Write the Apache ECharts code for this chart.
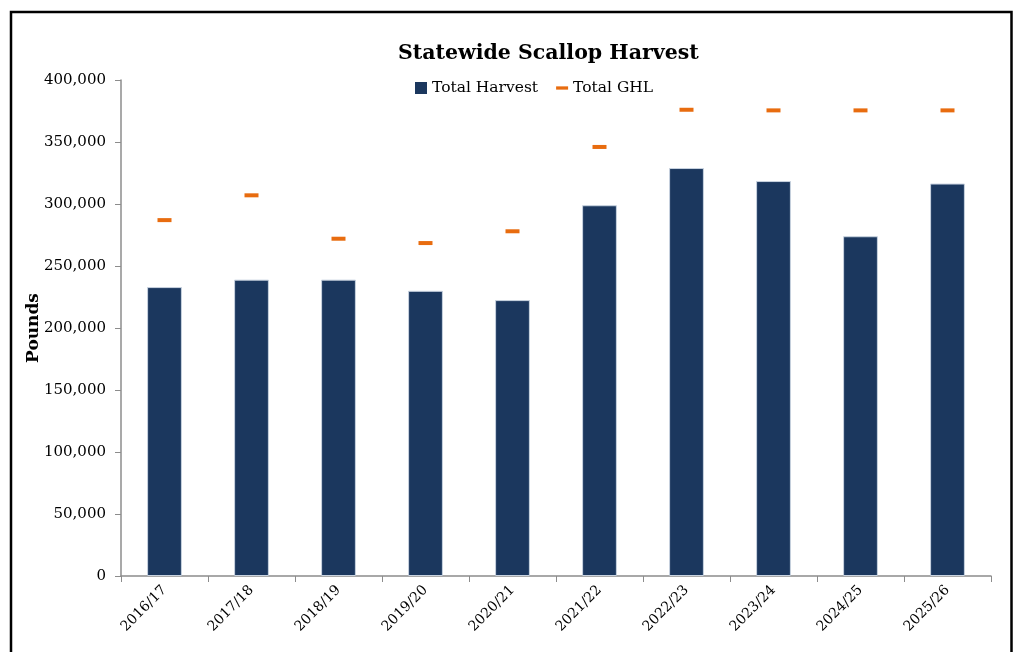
<!DOCTYPE html>
<html><head><meta charset="utf-8">
<script src="https://cdn.jsdelivr.net/npm/echarts@6/dist/echarts.min.js"></script>
<style>html,body{margin:0;padding:0;background:#fff;}#c{width:1023px;height:652px;}</style>
</head><body><div id="c"></div>
<script>
const categories = ['2016/17','2017/18','2018/19','2019/20','2020/21','2021/22','2022/23','2023/24','2024/25','2025/26'];
const totalHarvest = [233000, 239000, 239000, 230000, 222500, 299000, 329000, 318500, 274000, 316500];
const totalGHL = [287000, 307000, 272000, 268500, 278000, 346000, 376000, 375500, 375500, 375500];
const F = 'DejaVu Serif, serif';
const chart = echarts.init(document.getElementById('c'), null, {renderer:'canvas'});
chart.setOption({
  backgroundColor:'#fff',
  animation:false,
  graphic:[{type:'rect', shape:{x:11, y:12, width:1000.5, height:700}, style:{fill:'none', stroke:'#000', lineWidth:2.5}, silent:true}],
  title:{text:'Statewide Scallop Harvest', left:393, top:38, textStyle:{fontFamily:F, fontWeight:'bold', fontSize:20.5, color:'#000'}},
  legend:{top:75, left:410, itemGap:18, itemWidth:12, itemHeight:12, symbolKeepAspect:true,
    textStyle:{fontFamily:F, fontSize:15.5, color:'#000'},
    data:[{name:'Total Harvest', icon:'rect', itemStyle:{color:'#1b375e', borderWidth:0}},
          {name:'Total GHL', icon:'path://M0,0 L11,0 L11,3 L0,3 Z', itemStyle:{color:'#e86c0f', opacity:1}}]},
  grid:{left:121, right:32, top:80, bottom:76, containLabel:false},
  xAxis:{type:'category', data:categories, boundaryGap:true,
    axisLine:{lineStyle:{color:'#8c8c8c', width:1.5}},
    axisTick:{show:true, alignWithLabel:false, length:6, lineStyle:{color:'#8c8c8c'}},
    axisLabel:{rotate:45, fontFamily:F, fontSize:14, color:'#000', margin:12, interval:0}},
  yAxis:{type:'value', min:0, max:400000, interval:50000,
    name:'Pounds', nameLocation:'middle', nameGap:79, nameRotate:90, nameMoveOverlap:false,
    nameTextStyle:{fontFamily:F, fontWeight:'bold', fontSize:17, color:'#000'},
    axisLine:{show:true, lineStyle:{color:'#8c8c8c', width:1.5}},
    axisTick:{show:true, length:6, lineStyle:{color:'#8c8c8c'}},
    splitLine:{show:false},
    axisLabel:{fontFamily:F, fontSize:15, color:'#000', margin:15,
      formatter:v=>v.toLocaleString('en-US')}},
  series:[
    {name:'Total Harvest', type:'bar', data:totalHarvest, barWidth:'40%',
      itemStyle:{color:'#1b375e', borderColor:'#c9d3e0', borderWidth:1}},
    {name:'Total GHL', type:'scatter', data:totalGHL, symbol:'rect', symbolSize:[14,4],
      itemStyle:{color:'#e86c0f', opacity:1}, z:5}
  ]
});
</script></body></html>
